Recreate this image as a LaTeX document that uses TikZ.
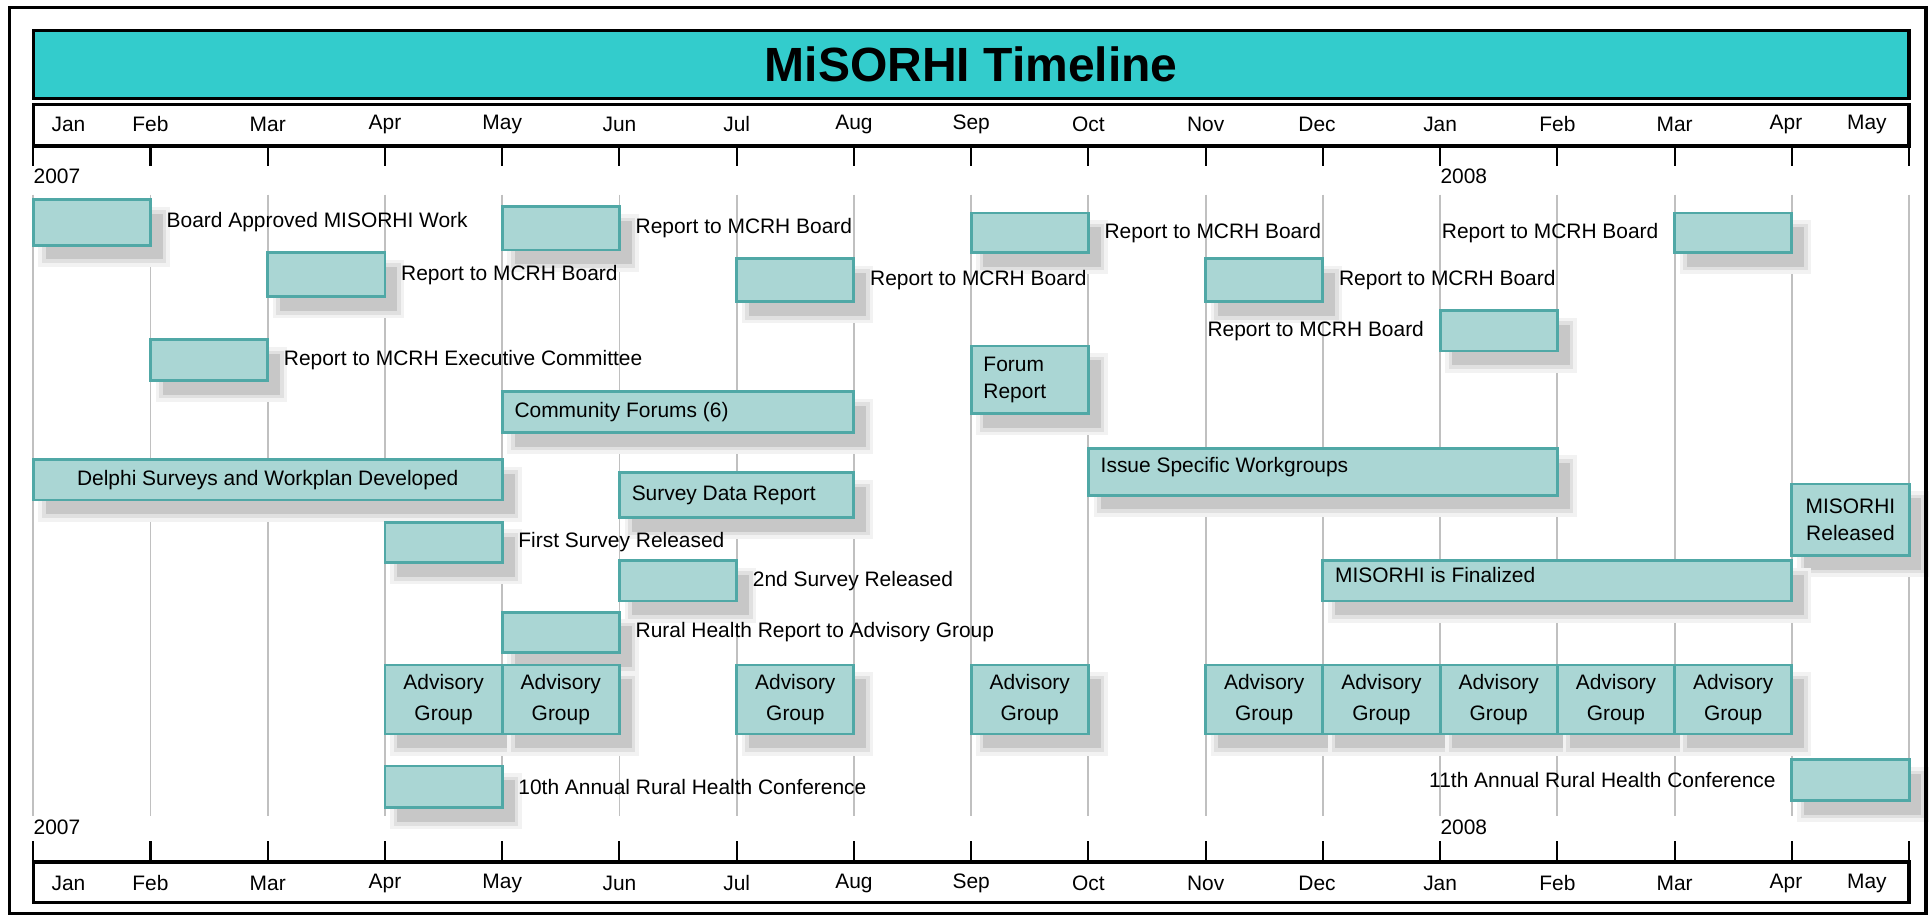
\documentclass[tikz,border=0pt]{standalone}
\usepackage{fontspec}
\setmainfont{Liberation Sans}
\usetikzlibrary{fit,shadows}

\definecolor{titlecyan}{RGB}{51,204,204}
\definecolor{boxfill}{RGB}{170,214,212}
\definecolor{boxline}{RGB}{80,168,166}
\definecolor{gridgray}{RGB}{192,192,192}

\begin{document}
\begin{tikzpicture}[
    x=57.12pt, y=-0.6pt,
    every node/.style={font=\fontsize{10.2}{13.5}\selectfont, inner sep=2pt},
    label distance=5pt,
    tbox/.style={draw=boxline, fill=boxfill, line width=1.4pt, inner sep=0pt,
      general shadow={shadow xshift=6pt, shadow yshift=-7pt, fill=black!5, draw=black!5, line width=7pt},
      general shadow={shadow xshift=6pt, shadow yshift=-7pt, fill=black!12, draw=black!12, line width=3.5pt},
      general shadow={shadow xshift=6pt, shadow yshift=-7pt, fill=black!22}},
    inlabel/.style={anchor=west, xshift=9.5pt, align=left},
    intext/.style={align=center}
  ]
  \useasboundingbox (-0.2836,0) rectangle (16.187,746);

  % title and month bands
  \node (title) [fit={(0,25) (16,80)}, inner sep=0pt, fill=titlecyan, draw, line width=1.6pt] {};
  \node (title_text) [font=\fontsize{23.4}{28}\selectfont\bfseries] at (title.center) {MiSORHI Timeline};
  \draw [line width=1.6pt] (0,85) rectangle (16,118.6);
  \draw [line width=1.6pt] (0,700) rectangle (16,733);
  \foreach \m in {0,...,16} {
    \draw [gridgray, line width=0.9pt] (\m,158) -- (\m,663);
    \draw [line width=1pt] (\m,118.6) -- (\m,135);
    \draw [line width=1pt] (\m,683) -- (\m,700);
  }
  \foreach \m/\mon [count=\i] in {0.3/Jan, 1/Feb, 2/Mar, 3/Apr, 4/May, 5/Jun, 6/Jul, 7/Aug,
      8/Sep, 9/Oct, 10/Nov, 10.95/Dec, 12/Jan, 13/Feb, 14/Mar, 14.95/Apr, 15.64/May} {
    \node (mon_top_\i) at (\m,101) {\mon};
    \node (mon_bot_\i) at (\m,717) {\mon};
  }
  \node (yr_top_a) [anchor=west, inner sep=0pt] at (0,143) {2007};
  \node (yr_top_b) [anchor=west, inner sep=0pt] at (12,143) {2008};
  \node (yr_bot_a) [anchor=west, inner sep=0pt] at (0,672) {2007};
  \node (yr_bot_b) [anchor=west, inner sep=0pt] at (12,672) {2008};

  % reports
  \node (board) [tbox, fit={(0,162) (1,199)}, label=east:Board Approved MISORHI Work] {};
  \node (rep_may) [tbox, fit={(4,168) (5,203)}, label=east:Report to MCRH Board] {};
  \node (rep_sep) [tbox, fit={(8,173) (9,205)}, label=east:Report to MCRH Board] {};
  \node (rep_mar08) [tbox, fit={(14,173) (15,205)}, label=west:Report to MCRH Board] {};
  \node (rep_mar) [tbox, fit={(2,205) (3,241)}, label=east:Report to MCRH Board] {};
  \node (rep_jul) [tbox, fit={(6,210) (7,245)}, label=east:Report to MCRH Board] {};
  \node (rep_nov) [tbox, fit={(10,210) (11,245)}, label=east:Report to MCRH Board] {};
  \node (rep_jan08) [tbox, fit={(12,252) (13,285)}, label=west:Report to MCRH Board] {};
  \node (exec) [tbox, fit={(1,276) (2,309)}, label=east:Report to MCRH Executive Committee] {};
  \node (forum_rep) [tbox, fit={(8,281) (9,336)}, label={[inlabel]west:Forum\\Report}] {};

  % surveys and workgroups
  \node (forums) [tbox, fit={(4,318) (7,351)}, label={[inlabel]west:Community Forums (6)}] {};
  \node (delphi) [tbox, fit={(0,373) (4,406)}] {};
  \node (delphi_text) [intext] at (delphi.center) {Delphi Surveys and Workplan Developed};
  \node (workgroups) [tbox, fit={(9,364) (13,402)}, label={[inlabel, yshift=2.4pt]west:Issue Specific Workgroups}] {};
  \node (survey_data) [tbox, fit={(5,384) (7,420)}, label={[inlabel]west:Survey Data Report}] {};
  \node (released) [tbox, fit={(15,393) (16,451)}] {};
  \node (released_text) [intext] at (released.center) {MISORHI\\Released};
  \node (survey_1) [tbox, fit={(3,424) (4,457)}, label=east:First Survey Released] {};
  \node (survey_2) [tbox, fit={(5,455) (6,488)}, label=east:2nd Survey Released] {};
  \node (finalized) [tbox, fit={(11,455) (15,488)}, label={[inlabel, yshift=2.7pt]west:MISORHI is Finalized}] {};
  \node (rural_rep) [tbox, fit={(4,497) (5,530)}, label=east:Rural Health Report to Advisory Group] {};

  % advisory group meetings
  \foreach \m [count=\i] in {3,4,6,8,10,11,12,13,14} {
    \node (adv_\i) [tbox, fit={(\m,540) (\m+1,596)}] {};
    \node (adv_text_\i) [intext, font=\fontsize{10.2}{15}\selectfont] at (adv_\i.center) {Advisory\\Group};
  }

  % conferences
  \node (conf_10) [tbox, fit={(3,622) (4,656)}, label=east:10th Annual Rural Health Conference] {};
  \node (conf_11) [tbox, fit={(15,617) (16,650)}, label=west:11th Annual Rural Health Conference] {};

  % outer frame
  \draw [line width=1.6pt] (-0.204,6) rectangle (16.145,742);
\end{tikzpicture}
\end{document}
